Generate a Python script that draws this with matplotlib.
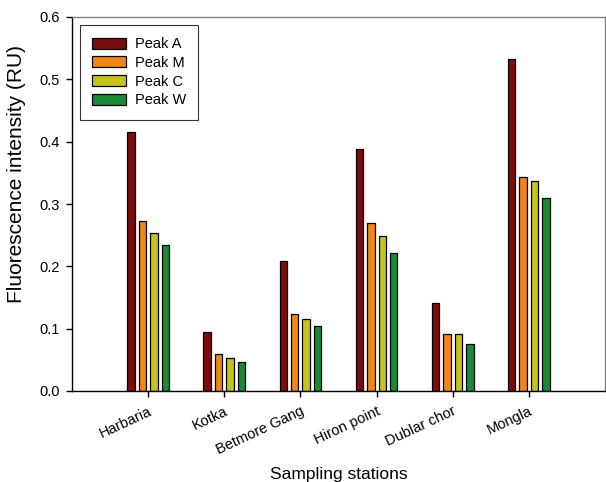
import numpy as np
import matplotlib
matplotlib.use("Agg")
import matplotlib.pyplot as plt

plt.rcParams['font.family'] = ['Liberation Sans', 'DejaVu Sans']

stations = ["Harbaria", "Kotka", "Betmore Gang", "Hiron point", "Dublar chor", "Mongla"]
peak_a = [0.415, 0.094, 0.208, 0.389, 0.141, 0.533]
peak_m = [0.272, 0.059, 0.124, 0.269, 0.092, 0.344]
peak_c = [0.253, 0.053, 0.115, 0.248, 0.091, 0.337]
peak_w = [0.234, 0.047, 0.105, 0.222, 0.075, 0.310]

series = [("Peak A", peak_a, "#7a0c0c"),
          ("Peak M", peak_m, "#f0861a"),
          ("Peak C", peak_c, "#c4c41c"),
          ("Peak W", peak_w, "#188a36")]

fig = plt.figure(figsize=(6.06, 4.82), dpi=100)
ax = fig.add_axes([72 / 606, 1 - 391 / 482, (605 - 72) / 606, (391 - 17) / 482])

x = np.arange(len(stations))
width = 0.096
pitch = 0.15
for i, (name, vals, color) in enumerate(series):
    offs = (i - 1.5) * pitch
    ax.bar(x + offs, vals, width, color=color, edgecolor="black", linewidth=0.9, label=name)

ax.set_xlim(-1, 6)
ax.set_ylim(0, 0.6)
yt = np.arange(0, 0.61, 0.1)
ax.set_yticks(yt)
ax.set_yticklabels([f"{v:.1f}" for v in yt])
ax.set_xticks(x)
ax.set_xticklabels(stations, rotation=25, ha="right", rotation_mode="anchor")

ax.tick_params(axis="both", direction="out", length=4.5, width=1, labelsize=10.5, colors="black")
ax.tick_params(axis="x", pad=5)
ax.tick_params(axis="y", pad=4)

for side in ["left", "bottom"]:
    ax.spines[side].set_color("black")
    ax.spines[side].set_linewidth(1)
for side in ["top", "right"]:
    ax.spines[side].set_color("#808080")
    ax.spines[side].set_linewidth(1)

ax.set_ylabel("Fluorescence intensity (RU)", fontsize=15)
ax.yaxis.set_label_coords(-0.087, 0.58)
ax.set_xlabel("Sampling stations", fontsize=12.5)
ax.xaxis.set_label_coords(0.5, -0.203)

leg = ax.legend(loc="upper left", bbox_to_anchor=(0.015, 0.979), fontsize=10.5,
                frameon=True, fancybox=False, edgecolor="black",
                handlelength=2.3, handleheight=0.75, handletextpad=0.6,
                labelspacing=0.32, borderpad=0.85, borderaxespad=0.0)
leg.get_frame().set_linewidth(0.8)

fig.savefig("out.png", dpi=100)
